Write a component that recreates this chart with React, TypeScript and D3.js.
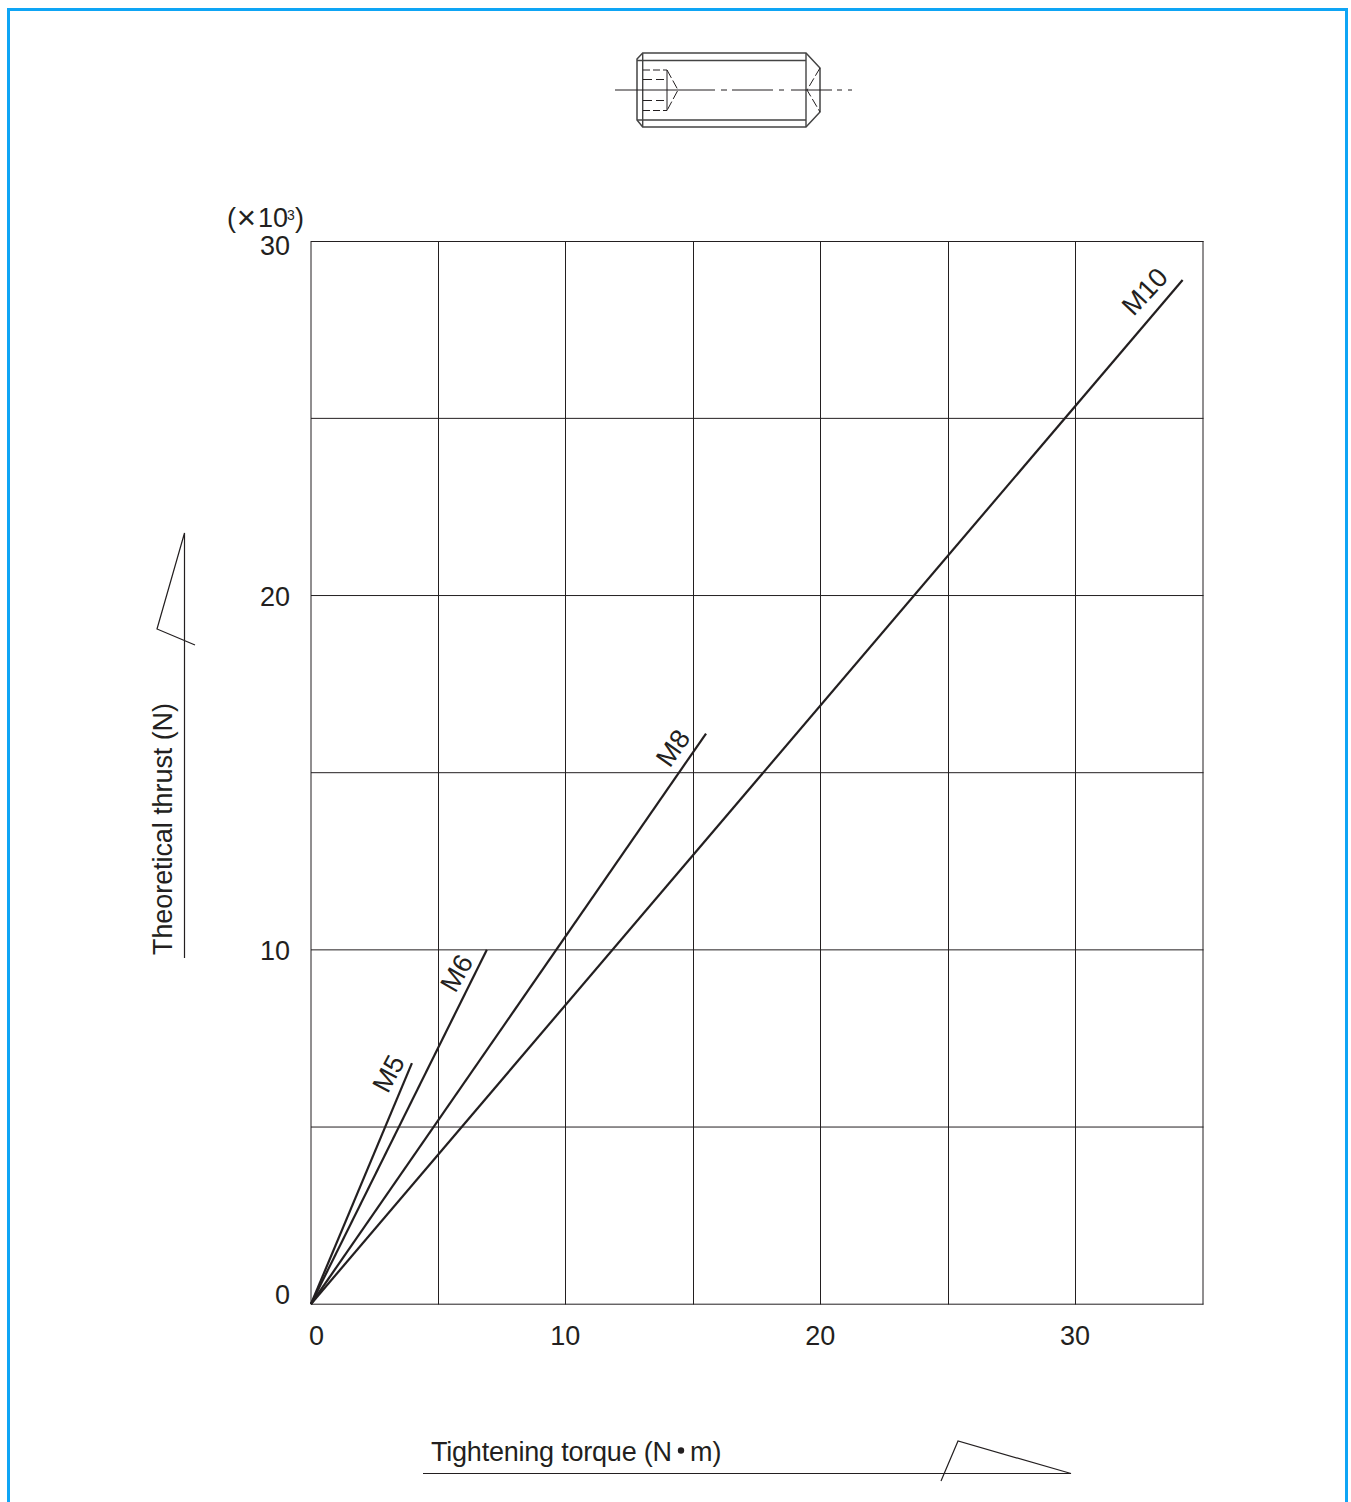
import React from "react";
import * as d3 from "d3";

const xTicks = [0, 5, 10, 15, 20, 25, 30, 35];
const yTicks = [0, 5, 10, 15, 20, 25, 30];
const xLabels = [0, 10, 20, 30];
const yLabels = [0, 10, 20, 30];
const seriesNames = ["M5", "M6", "M8", "M10"];
const seriesEndTorque = [3.96, 6.9, 15.5, 34.2];
const seriesEndThrust = [6.8, 10, 16.1, 28.9];
// label anchor in data units and rotation
const labelTorque = [3.36, 6.03, 14.5, 32.98];
const labelThrust = [6.38, 9.21, 15.54, 28.4];
const labelAngle = [-62, -60, -55, -47];

const FONT = "'Liberation Sans', Arial, sans-serif";
const INK = "#231f20";

export default function App() {
  const x = d3.scaleLinear().domain([0, 35]).range([311, 1203]);
  const y = d3.scaleLinear().domain([0, 30]).range([1304, 241]);
  const line = d3.line<[number, number]>().x((d) => x(d[0])).y((d) => y(d[1]));
  const isEdgeX = (t: number) => t === 0 || t === 35;
  const gx = (t: number) => (isEdgeX(t) ? x(t) : Math.floor(x(t)) + 0.5);
  const gy = (t: number) => (t === 30 ? 241.5 : y(t) + 0.2);
  return (
    <svg width={1351} height={1502} viewBox="0 0 1351 1502" style={{ position: "absolute", left: 0, top: 0, display: "block", background: "#fff" }} fontFamily={FONT} fill={INK}>
      <path d="M8.5 1502V9.5H1346.5V1502" fill="none" stroke="#0ea5f5" strokeWidth={3} />

      {/* Set screw drawing */}
      <g fill="none" stroke={INK} strokeWidth={1}>
        <path d="M642.7 53H806L820 68V112L806 127H642.7L637 120V59Z" stroke="#444" strokeWidth={1.5} />
        <path d="M637 60.5H806M637 120H806M642.7 53V127M806 53V127" stroke="#444" strokeWidth={1.4} />
        <path d="M615 90H715M721 90H727M732 90H773M779 90H784M791 90H832M837 90H842M848 90H852" />
        <path d="M643 70H667M643 110.5H667" strokeDasharray="7 3" />
        <path d="M667 70V110.5" />
        <path d="M643 79.5H664M643 100.5H664" strokeDasharray="9 4" />
        <path d="M667 70L678 90L667 110.5" strokeDasharray="9 3" />
        <path d="M820 68L807 90L820 112" strokeDasharray="9 3" />
      </g>

      {/* Grid */}
      <g stroke={INK} strokeWidth={1}>
        {xTicks.map((t) => (
          <line key={t} x1={gx(t)} x2={gx(t)} y1={241} y2={1304.5} />
        ))}
        {yTicks.map((t) => (
          <line key={t} x1={311} x2={1203.5} y1={gy(t)} y2={gy(t)} />
        ))}
      </g>

      {/* Series */}
      <g fill="none" stroke={INK} strokeWidth={2.2}>
        {seriesNames.map((n, i) => (
          <path key={n} d={line([[0, 0], [seriesEndTorque[i], seriesEndThrust[i]]]) ?? ""} />
        ))}
      </g>
      <g fontSize={27}>
        {seriesNames.map((n, i) => (
          <text key={n} textAnchor="middle" transform={`translate(${x(labelTorque[i])},${y(labelThrust[i])}) rotate(${labelAngle[i]})`}>
            {n}
          </text>
        ))}
      </g>

      {/* Tick labels */}
      <g fontSize={27}>
        {xLabels.map((t) => (
          <text key={t} x={t === 0 ? 316.5 : x(t) - 0.5} y={1345} textAnchor="middle">{t}</text>
        ))}
        {yLabels.map((t) => (
          <text key={t} x={290} y={t === 30 ? 255 : t === 0 ? 1304 : t === 20 ? y(t) + 11 : y(t) + 10} textAnchor="end">{t}</text>
        ))}
        <text x={227} y={227}>(</text>
        <text x={246.5} y={229} fontSize={33} textAnchor="middle">×</text>
        <text x={258} y={227}>10</text>
        <text x={287} y={220} fontSize={14}>3</text>
        <text x={295} y={227}>)</text>
      </g>

      {/* Axis titles */}
      <text fontSize={27} x={431} y={1461} textLength={241}>Tightening torque (N</text>
      <circle cx={681} cy={1450.5} r={3.2} />
      <text fontSize={27} x={690} y={1461}>m)</text>
      <text fontSize={27} textLength={252} transform="translate(172,955) rotate(-90)">Theoretical thrust (N)</text>

      {/* Drawing marks on the axis titles */}
      <g fill="none" stroke={INK} strokeWidth={1.2}>
        <path d="M423 1473.5H1071L958 1441L941 1481" />
        <path d="M184.5 958V533L157 629L195 645" />
      </g>
    </svg>
  );
}
